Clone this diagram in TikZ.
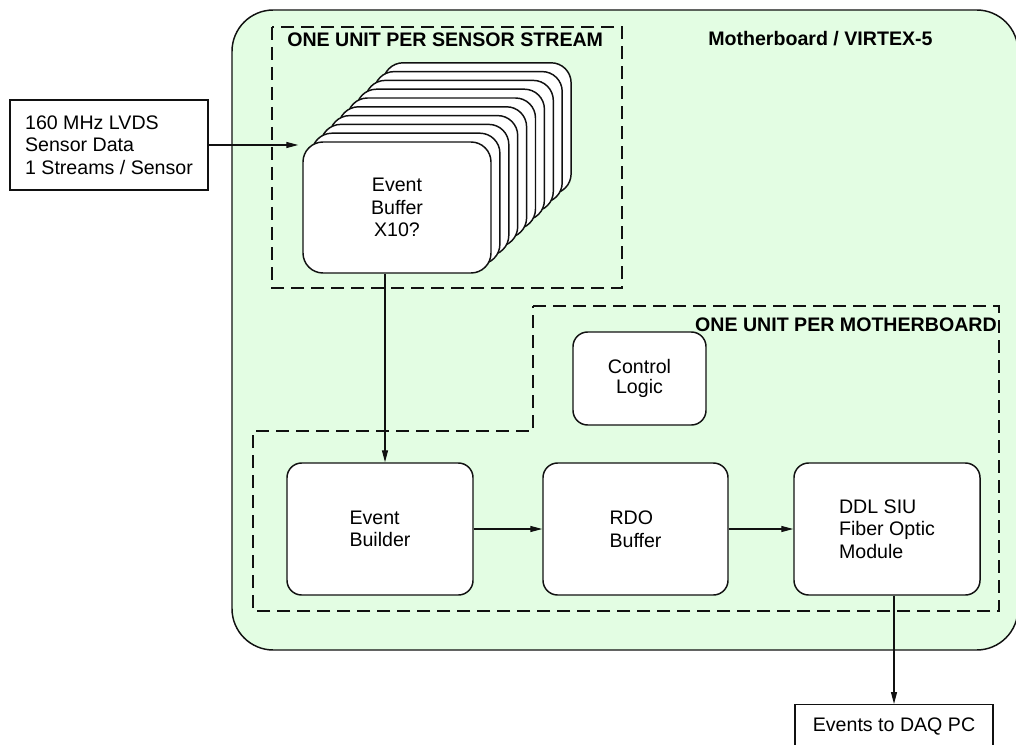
\documentclass[tikz,border=0pt]{standalone}
\usepackage{fontspec}
\setmainfont{Liberation Sans}
\usepackage{xcolor}
\definecolor{Board}{HTML}{E3FDE3}
\definecolor{Ink}{HTML}{111111}
\usetikzlibrary{arrows.meta,positioning,calc}
\tikzset{
  unit/.style={draw=Ink,fill=white,rounded corners=11pt,line width=1.1pt,align=left,
    minimum width=139.5pt,minimum height=99pt,inner sep=2pt,
    font=\fontsize{14.7}{17}\selectfont},
  buffer/.style={unit,rounded corners=15pt,minimum width=141pt,minimum height=98.25pt,align=center},
  plain/.style={draw=Ink,fill=white,line width=1.1pt,align=left,inner sep=3pt,
    font=\fontsize{14.7}{17}\selectfont},
  region/.style={draw=Ink,dash pattern=on 10pt off 5pt,line width=1.2pt},
  title/.style={font=\fontsize{14.7}{17}\selectfont\bfseries,inner sep=0pt},
  arrow/.style={-{Triangle[length=9pt,width=4.5pt]},line width=0.9pt,draw=Ink}
}

\begin{document}
\begin{tikzpicture}[x=0.75pt,y=-0.75pt]
\useasboundingbox (0,0) rectangle (1016,745);
% board and dashed regions
\draw[draw=Ink,fill=Board,line width=1.1pt,rounded corners=31pt] (232,10) rectangle (1018,650);
\draw[region] (272,27) rectangle (622,288);
\draw[region] (533,306) -- (999,306) -- (999,611) -- (253,611) -- (253,431) -- (533,431) -- cycle;
\node[title,anchor=base west] (streamlbl) at (287,47) {ONE UNIT PER SENSOR STREAM};
\node[title,anchor=base west] (boardlbl) at (708,46) {Motherboard / VIRTEX-5};
\node[title,anchor=base east] (mblbl) at (997,331) {ONE UNIT PER MOTHERBOARD};
% input
\node[plain,minimum width=148.5pt,minimum height=67.5pt] (input) at (109,145)
  {160 MHz LVDS\\Sensor Data\\1 Streams / Sensor};
% stack of event buffers
\foreach \i in {9,...,1}
  \node[buffer] (stack\i) at ({397+8.9*\i},{207.5-8.8*\i}) {};
\node[buffer] (stack0) at (397,207.5) {Event\\Buffer\\X10?};
% motherboard units
\node[unit,align=center,minimum width=99.75pt,minimum height=69.75pt,
  font=\fontsize{14.7}{14.5}\selectfont] (control) at (639.5,378.5) {Control\\Logic};
\node[unit] (builder) at (380,529) {Event\\Builder};
\node[unit,minimum width=138.75pt] (rdo) at (635.5,529) {RDO\\Buffer};
\node[unit] (ddl) at (887,529) {DDL SIU\\Fiber Optic\\Module};
\node[plain,anchor=north,minimum width=148.5pt,align=center,
  text height=17.25pt,text depth=22.5pt] (daq) at (894,704) {Events to DAQ PC};
% connectors
\draw[arrow,shorten >=3pt] (input.east) -- (input.east -| stack0.west);
\draw[arrow] ([xshift=-9pt]stack0.south) -- ([xshift=-9pt]stack0.south |- builder.north);
\draw[arrow] (builder) -- (rdo);
\draw[arrow] (rdo) -- (ddl);
\draw[arrow] (ddl.south -| daq.north) -- (daq.north);
\end{tikzpicture}
\end{document}
